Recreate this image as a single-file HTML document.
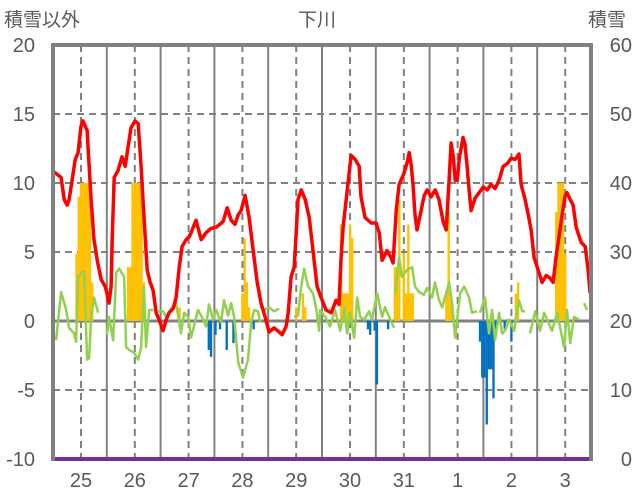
<!DOCTYPE html>
<html><head><meta charset="utf-8">
<style>
html,body{margin:0;padding:0;background:#fff;}
svg{display:block;font-family:"Liberation Sans","Noto Sans CJK JP",sans-serif;}
</style></head>
<body>
<svg id="chart" width="636" height="501" viewBox="0 0 636 501" xmlns="http://www.w3.org/2000/svg">
<text x="4" y="26" font-size="19" fill="#595959">積雪以外</text>
<text x="317" y="26" font-size="19" fill="#595959" text-anchor="middle">下川</text>
<text x="588" y="26" font-size="19" fill="#595959">積雪</text>
<g id="grid"></g>
<g id="bars"></g>
<g id="lines"></g>
<g id="frame"></g>
<g id="labels"></g>
</svg>
<script>
const dayLabels = ["25","26","27","28","29","30","31","1","2","3"];
const leftTicks = [20,15,10,5,0,-5,-10];
const rightTicks = [60,50,40,30,20,10,0];
const redHours = [0,3.1,4.5,5.8,6.7,8.0,9.4,10.7,12.0,12.9,14.7,16.5,17.8,19.2,21.0,22.8,23.6,24.5,25.4,25.9,26.8,28.5,30.3,31.7,32.6,34.3,36.1,37.5,38.8,40.1,41.5,42.8,44.2,45.5,46.8,48.6,50.0,51.3,53.1,54.4,55.8,57.1,58.9,60.2,61.1,63.3,65.6,67.8,70.0,72.3,75.4,77.2,79.0,80.7,82.1,83.4,85.2,87.0,88.8,90.6,92.3,94.1,95.9,98.1,100.4,101.7,103.5,104.4,105.7,107.1,108.0,108.8,110.2,112.0,113.8,115.5,117.3,119.1,121.3,123.6,125.8,127.1,128.0,128.9,130.3,132.5,134.3,136.1,136.9,138.7,141.4,143.6,145.0,146.3,148.5,150.3,151.2,152.6,153.9,156.1,157.5,158.4,159.3,160.1,161.0,161.9,163.7,165.1,166.4,168.2,170.0,171.7,173.5,174.9,176.2,177.1,178.0,178.9,179.8,180.7,182.4,183.3,184.2,185.1,186.0,187.8,189.6,191.4,193.2,194.9,196.7,198.5,200.3,202.1,203.9,205.6,207.4,208.3,210.1,211.4,212.8,214.1,215.9,217.7,219.5,221.3,222.6,223.9,225.3,226.6,228.0,228.8,230.2,231.5,232.9,235.1,236.9,238.2,239.1];
const redValues = [10.8,10.4,8.8,8.4,8.8,10.2,11.7,12.2,14.1,14.5,13.8,8.8,5.9,4.4,3.0,2.5,2.0,1.3,2.5,5.9,10.4,10.9,11.9,11.2,12.2,14.0,14.5,14.3,11.2,7.5,3.7,2.8,2.2,0.6,0.1,-0.7,0.1,0.6,0.9,1.7,3.9,5.4,5.9,6.1,6.4,7.3,5.9,6.4,6.7,6.8,7.2,8.2,7.3,7.0,7.7,8.0,9.1,7.5,5.1,2.8,1.3,0.3,-0.8,-0.5,-0.8,-1.0,-0.4,0.6,3.2,3.9,6.4,8.8,9.5,8.8,7.5,5.1,2.5,1.7,0.8,0.6,1.5,1.2,4.6,6.8,8.8,12.0,11.7,11.2,9.0,7.5,7.1,7.1,6.4,4.4,5.1,4.6,4.2,8.0,9.9,10.7,11.5,12.2,11.3,9.9,7.7,6.6,8.0,9.1,9.5,9.0,9.5,8.8,7.2,6.6,10.2,12.9,12.0,10.2,10.2,11.7,13.3,12.8,11.3,9.5,8.0,8.9,9.3,9.7,9.5,9.9,9.6,10.2,11.2,11.4,11.8,11.7,12.1,9.9,8.8,7.8,6.6,4.6,3.7,2.8,3.3,3.1,2.8,4.6,6.2,7.7,9.1,9.3,8.8,8.4,6.8,5.7,5.4,3.7,2.0];
const greenHours = [0.9,3.1,5.4,6.7,8.9,9.8,10.7,12.9,13.4,14.7,15.6,16.5,17.8,19.6,null,23.6,24.5,26.3,27.7,29.0,31.2,32.1,33.5,35.7,37.5,38.8,40.1,41.0,42.4,44.2,null,46.4,48.6,50.0,52.2,54.4,56.6,58.0,59.8,61.1,64.2,66.5,67.8,69.1,70.9,72.3,74.5,75.8,77.6,79.0,80.3,82.1,84.3,86.5,87.9,89.2,91.0,91.9,null,93.7,95.9,98.1,100.4,null,107.1,108.8,110.2,111.5,113.3,115.5,116.9,118.2,118.6,120.9,123.1,125.3,127.6,129.4,130.7,132.0,133.8,135.2,136.5,138.3,140.5,141.8,144.1,146.3,147.6,149.4,151.7,null,152.1,153.9,155.2,157.5,159.7,161.0,162.8,165.0,166.4,168.6,169.9,171.7,173.1,176.2,177.5,178.9,181.1,182.9,185.1,186.4,188.7,null,190.0,192.2,194.0,195.4,196.7,198.5,199.8,201.2,202.9,205.2,207.4,208.8,210.1,null,212.3,214.6,216.8,218.6,222.1,224.4,227.5,228.8,230.2,231.9,234.2,null,236.4,237.7];
const greenValues = [-1.4,2.1,0.8,-0.5,-0.9,-1.5,3.2,3.6,3.5,-2.8,-2.7,0.3,1.7,0.6,null,-1.0,0.3,-1.4,3.5,3.8,3.2,-1.9,-2.1,-2.3,-2.8,-1.9,2.4,-1.9,0.8,0.8,null,0.7,0.7,0.3,0.9,1.3,-0.9,0.6,0.3,-1.2,0.8,0.1,-0.4,1.2,0.1,0.8,-0.1,1.5,0.4,1.3,0.3,-3.0,-4.1,-2.8,-0.1,0.8,0.7,-0.1,null,0.8,1.0,0.7,0.9,null,0.3,0.4,2.5,3.8,2.5,2.0,0.9,-0.7,0.8,0.3,-0.4,0.8,-0.7,1.0,-0.9,0.6,-1.2,1.7,0.3,0.1,0.7,0.1,2.0,0.3,1.0,0.3,-0.5,null,2.0,4.6,3.2,3.7,3.9,2.5,2.1,1.9,2.4,1.7,2.8,1.5,1.0,2.8,1.3,-1.2,2.0,2.5,1.7,0.6,0.7,null,0.6,1.7,-0.9,0.8,-1.4,0.6,-0.9,-0.7,0.1,-0.7,1.5,0.7,0.7,null,-0.9,0.7,-0.7,0.6,-0.7,0.6,-1.9,0.8,-1.6,0.3,0.1,null,1.3,0.8];
const yellowHours = [10,11,12,13,14,15,16,17,33,34,35,36,37,38,39,40,56,84,85,86,87,108,111,112,128,129,130,131,132,133,152,153,154,156,157,158,159,160,175,176,177,206,207,224,225,226,227,228];
const yellowValues = [4.9,9,10,10,10,10,10,2.8,3.9,3.9,10,10,10,10,10,2.8,1.0,2.0,6.0,2.8,1.0,1.0,2.0,1.0,7.0,2.0,2.0,2.0,7.0,6.0,3.9,3.9,8.8,4.9,2.0,7.0,2.0,2.0,2.0,7.9,2.0,2.0,2.8,7.9,10,10,10,4.9];
const blueHours = [69,70,72,74,77,80,89,140,141,143,144,149,190,191,192,193,194,195,196,197,201,204];
const blueValues = [-2.1,-2.6,-1.0,-0.6,-2.1,-1.6,-0.6,-0.6,-1.0,-0.7,-4.6,-0.6,-1.5,-4.1,-4.1,-7.5,-3.5,-3.5,-5.6,-1.0,-0.6,-1.5];
const snowDepth = [0,0];

const NS="http://www.w3.org/2000/svg";
const X0=53, X1=591, Y0=45, Y1=459;
const xs = h => X0 + (h+0.5)*(X1-X0)/240;
const yL = v => Y0 + (20-v)*(Y1-Y0)/30;
const yR = v => Y0 + (60-v)*(Y1-Y0)/60;
function mk(tag, attrs, parent){const e=document.createElementNS(NS,tag);for(const k in attrs)e.setAttribute(k,attrs[k]);parent.appendChild(e);return e;}
const grid=document.getElementById('grid'), bars=document.getElementById('bars'), lines=document.getElementById('lines'), frame=document.getElementById('frame'), labels=document.getElementById('labels');

leftTicks.forEach(v=>{
  if(v===20||v===-10||v===0) return;
  const g=mk('line',{x1:X0,x2:X1,y1:yL(v),y2:yL(v),stroke:'#808080','stroke-width':2,'stroke-dasharray':'7,5'},grid);
  
  
});
dayLabels.forEach((d,i)=>{
  const c=xs(12+24*i);
  const g=mk('line',{x1:c,x2:c,y1:Y0,y2:Y1,stroke:'#808080','stroke-width':2,'stroke-dasharray':'7,5'},grid);
  
  
  if(i>0){
    const b=xs(24*i-0.5);
    const s=mk('line',{x1:b,x2:b,y1:Y0,y2:Y1,stroke:'#808080','stroke-width':2},grid);
    
    
  }
  const t=mk('text',{x:c,y:487,'font-size':20,fill:'#595959','text-anchor':'middle'},labels);
  t.textContent=d;
  
  
});
const bw=(X1-X0)/240+0.1;
yellowHours.forEach((h,i)=>{
  const v=yellowValues[i];
  const r=mk('rect',{x:xs(h)-bw/2,y:yL(v),width:bw,height:yL(0)-yL(v),fill:'#FFC000'},bars);
  
  
});
blueHours.forEach((h,i)=>{
  const v=blueValues[i];
  const r=mk('rect',{x:xs(h)-bw/2,y:yL(0),width:bw,height:yL(v)-yL(0),fill:'#0070C0'},bars);
  
  
});
const zl=mk('line',{x1:X0,x2:X1,y1:yL(0),y2:yL(0),stroke:'#808080','stroke-width':3},grid);



let gd='', pen=false;
greenHours.forEach((h,i)=>{
  if(h===null){pen=false;return;}
  gd+=(pen?'L':'M')+xs(h).toFixed(1)+','+yL(greenValues[i]).toFixed(1);
  pen=true;
});
const gp=mk('path',{d:gd,fill:'none',stroke:'#92D050','stroke-width':2.5,'stroke-linejoin':'round'},lines);


let rd='';
redHours.forEach((h,i)=>{rd+=(i?'L':'M')+xs(h).toFixed(1)+','+yL(redValues[i]).toFixed(1);});
const rp=mk('path',{d:rd,fill:'none',stroke:'#FF0000','stroke-width':3.5,'stroke-linejoin':'round'},lines);


const sp=mk('line',{x1:X0,x2:X1,y1:yR(snowDepth[0]),y2:yR(snowDepth[1]),stroke:'#7030A0','stroke-width':4},lines);



const fr=[[X0,Y0-1.5,X0,Y1+2],[X0-1.5,Y0,X1+1.5,Y0],[X1,Y0-1.5,X1,Y1+2]];
fr.forEach(a=>{
  const l=mk('line',{x1:a[0],y1:a[1],x2:a[2],y2:a[3],stroke:'#808080','stroke-width':4},frame);
  
  
});
leftTicks.forEach(v=>{
  const t=mk('text',{x:35,y:yL(v)+7,'font-size':20,fill:'#595959','text-anchor':'end'},labels);
  t.textContent=v;
  
  
});
rightTicks.forEach(v=>{
  const t=mk('text',{x:632,y:yR(v)+7,'font-size':20,fill:'#595959','text-anchor':'end'},labels);
  t.textContent=v;
  
  
});
</script>
</body></html>
